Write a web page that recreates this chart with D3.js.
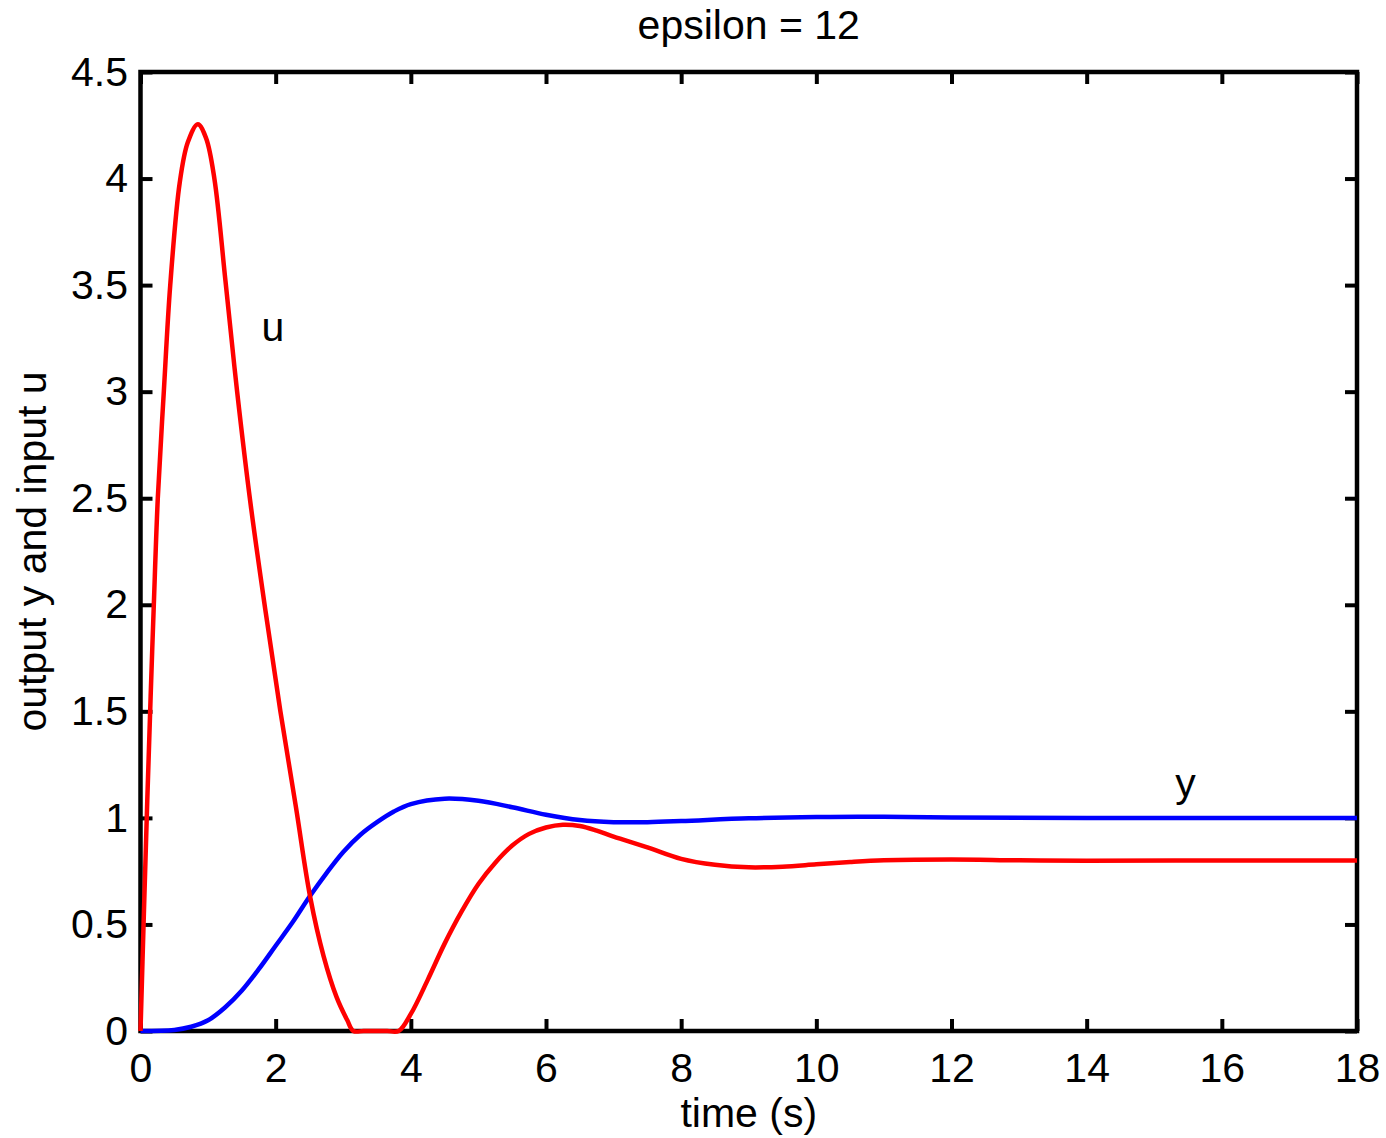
<!DOCTYPE html>
<meta charset="utf-8">
<script src="https://d3js.org/d3.v7.min.js"></script>
<style>
  body { margin: 0; background: #fff; }
  text { font-family: "Liberation Sans", Arial, Helvetica, sans-serif; fill: #000; }
</style>
<div id="my_dataviz"></div>
<script>
// data
var tU = [0, 0.05, 0.1, 0.15, 0.197, 0.256, 0.345, 0.44, 0.58, 0.7, 0.848, 0.97, 1.093, 1.257, 1.43, 1.63, 1.85, 2.07, 2.3, 2.51, 2.71, 2.9, 3.06, 3.15,
          3.3, 3.5, 3.65, 3.82, 4.0, 4.25, 4.5, 4.75, 5.0, 5.25, 5.5, 5.75, 6.0, 6.25, 6.5, 6.75, 7.0, 7.5, 8.0, 8.5, 9.0, 9.5,
          10.0, 10.5, 11.0, 12.0, 13.0, 14.0, 16.0, 18.0];
var uVals = [0, 0.55, 1.08, 1.57, 2.0, 2.5, 3.0, 3.5, 3.98, 4.17, 4.255, 4.19, 4.0, 3.52, 3.0, 2.47, 1.97, 1.5, 1.05, 0.63, 0.35, 0.16, 0.05, 0,
          0, 0, 0, 0, 0.08, 0.24, 0.41, 0.56, 0.69, 0.79, 0.87, 0.925, 0.955, 0.968, 0.962, 0.94, 0.912, 0.862, 0.808, 0.78, 0.768, 0.771,
          0.782, 0.793, 0.801, 0.805, 0.801, 0.799, 0.8, 0.8];

var tY = [0, 0.5, 0.75, 1.0, 1.25, 1.5, 1.75, 2.0, 2.25, 2.5, 2.75, 3.0, 3.25, 3.5, 3.75, 4.0, 4.5, 5.0, 5.5, 6.0, 6.5, 7.0, 7.5, 8.0, 9.0, 10.0, 11.0, 12.0, 14.0, 18.0];
var yVals = [0, 0.005, 0.02, 0.05, 0.11, 0.19, 0.29, 0.4, 0.51, 0.63, 0.74, 0.84, 0.92, 0.98, 1.03, 1.065, 1.09, 1.08, 1.05, 1.015, 0.99, 0.98, 0.98, 0.985, 0.998, 1.004, 1.005, 1.002, 1.0, 1.0];

var xTicks = [0, 2, 4, 6, 8, 10, 12, 14, 16, 18];
var yTicks = [0, 0.5, 1, 1.5, 2, 2.5, 3, 3.5, 4, 4.5];

var titleText = "epsilon = 12";
var xLabel = "time (s)";
var yLabel = "output y and input u";

// set the dimensions and margins of the graph
var W = 1386, H = 1138;
var margin = {top: 72, right: 29, bottom: 107, left: 140.5},
    width = W - margin.left - margin.right,
    height = H - margin.top - margin.bottom;
var fontSize = "41px";

var svg = d3.select("#my_dataviz")
  .append("svg")
    .attr("width", W)
    .attr("height", H)
  .append("g")
    .attr("transform", "translate(" + margin.left + "," + margin.top + ")");

var x = d3.scaleLinear().domain([0, 18]).range([0, width]);
var y = d3.scaleLinear().domain([0, 4.5]).range([height, 0]);

var tickLen = 12;

// axes, ticks pointing inward on all four sides
svg.append("g")
    .attr("transform", "translate(0," + height + ")")
    .call(d3.axisBottom(x).tickValues(xTicks).tickSize(-tickLen).tickPadding(22).tickFormat(d3.format("d")));
svg.append("g")
    .call(d3.axisTop(x).tickValues(xTicks).tickSize(-tickLen).tickFormat(""));
svg.append("g")
    .call(d3.axisLeft(y).tickValues(yTicks).tickSize(-tickLen).tickPadding(12.5).tickFormat(function(d) { return String(d); }));
svg.append("g")
    .attr("transform", "translate(" + width + ",0)")
    .call(d3.axisRight(y).tickValues(yTicks).tickSize(-tickLen).tickFormat(""));

svg.selectAll(".domain").remove();
svg.selectAll(".tick line").attr("stroke", "#000").attr("stroke-width", 4);
svg.selectAll(".tick text").attr("font-size", fontSize).attr("fill", "#000")
  .style("font-family", "'Liberation Sans', Arial, sans-serif");

// box
svg.append("rect")
  .attr("x", 0).attr("y", 0)
  .attr("width", width).attr("height", height)
  .attr("fill", "none")
  .attr("stroke", "#000")
  .attr("stroke-width", 4.5);

// curves, drawn over the box like the original
var line = d3.line().curve(d3.curveCatmullRom.alpha(0.5));

svg.append("path")
  .attr("d", line(tY.map(function(t, i) { return [x(t), y(yVals[i])]; })))
  .attr("fill", "none")
  .attr("stroke", "#0000ff")
  .attr("stroke-width", 4.5);

svg.append("path")
  .attr("d", line(tU.map(function(t, i) { return [x(t), y(uVals[i])]; })))
  .attr("fill", "none")
  .attr("stroke", "#ff0000")
  .attr("stroke-width", 4.5);

// curve labels
svg.append("text").text("u")
  .attr("x", x(1.79)).attr("y", y(3.24))
  .attr("font-size", fontSize);
svg.append("text").text("y")
  .attr("x", x(15.31)).attr("y", y(1.1))
  .attr("font-size", fontSize);

// title and axis labels
svg.append("text").text(titleText)
  .attr("x", width / 2).attr("y", 39 - margin.top)
  .attr("text-anchor", "middle")
  .attr("font-size", fontSize);
svg.append("text").text(xLabel)
  .attr("x", width / 2).attr("y", 1127 - margin.top)
  .attr("text-anchor", "middle")
  .attr("font-size", fontSize);
svg.append("text").text(yLabel)
  .attr("transform", "translate(" + (46 - margin.left) + "," + (height / 2) + ") rotate(-90)")
  .attr("text-anchor", "middle")
  .attr("font-size", fontSize);
</script>
